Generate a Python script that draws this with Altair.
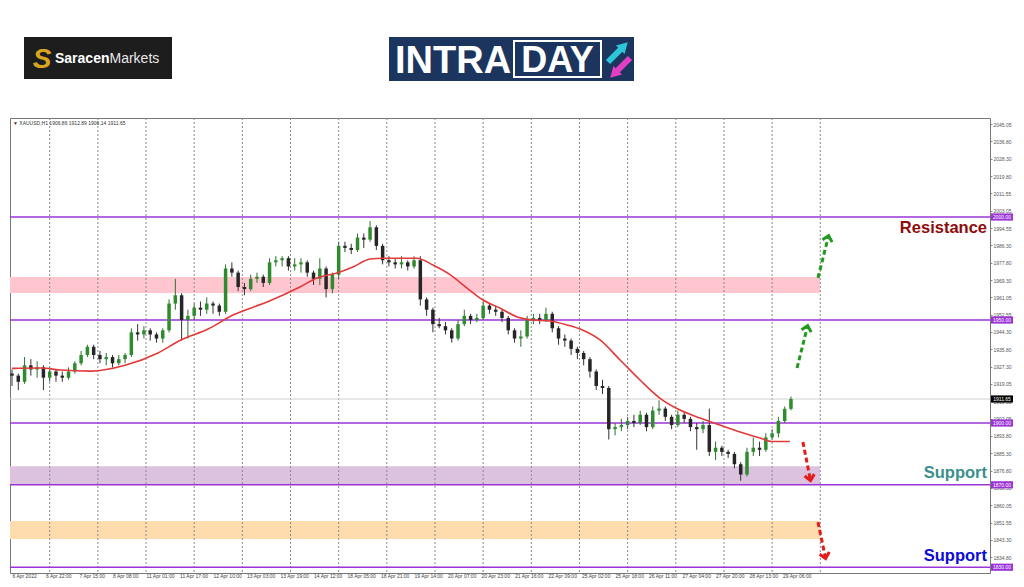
import altair as alt
import pandas as pd

# ---------------- data ----------------
# 3-hour candles of XAUUSD (each index step = 3 H1 bars)
opens = [1924,1923,1920,1928,1926,1927,1922,1925,1923,1922,
         1925,1929,1933,1937,1933,1931,1932,1929,1931,1933,
         1944,1943,1945,1943,1941,1945,1958,1962,1950,1952,
         1956,1955,1958,1957,1954,1975,1973,1966,1965,1970,
         1971,1968,1978,1979,1980,1976,1977,1978,1973,1970,
         1975,1965,1972,1986,1985,1984,1990,1989,1995,1986,
         1979,1978,1977,1978,1976,1979,1960,1955,1948,1947,
         1945,1941,1948,1952,1950,1951,1957,1955,1954,1951,
         1945,1941,1942,1950,1951,1950,1953,1946,1941,1940,
         1936,1934,1931,1925,1918,1917,1897,1898,1899,1901,
         1900,1904,1898,1906,1907,1903,1899,1904,1902,1898,
         1897,1899,1886,1888,1886,1885,1880,1875,1886,1888,
         1887,1893,1895,1901,1906.86]
closes = [1923,1920,1928,1926,1927,1922,1925,1923,1922,1925,
          1929,1933,1937,1933,1931,1932,1929,1931,1933,1944,
          1943,1945,1943,1941,1945,1958,1962,1950,1952,1956,
          1955,1958,1957,1954,1975,1973,1966,1965,1970,1971,
          1968,1978,1979,1980,1976,1977,1978,1973,1970,1975,
          1965,1972,1986,1985,1984,1990,1989,1995,1986,1979,
          1978,1977,1978,1976,1979,1960,1955,1948,1947,1945,
          1941,1948,1952,1950,1951,1957,1955,1954,1951,1945,
          1941,1942,1950,1951,1950,1953,1946,1941,1940,1936,
          1934,1931,1925,1918,1917,1897,1898,1899,1901,1900,
          1904,1898,1906,1907,1903,1899,1904,1902,1898,1897,
          1899,1886,1888,1886,1885,1880,1875,1886,1888,1887,
          1893,1895,1901,1906.86,1911.65]
highs = [1926,1924,1932,1931,1930,1928,1927,1926,1925,1927,
         1930,1935,1938,1938,1935,1934,1933,1933,1934,1946,
         1948,1947,1946,1944,1946,1960,1970,1963,1955,1958,
         1959,1961,1959,1958,1977,1978,1974,1968,1972,1973,
         1972,1980,1981,1981,1981,1980,1980,1979,1974,1980,
         1976,1973,1988,1988,1987,1992,1992,1998,1996,1987,
         1981,1980,1981,1979,1981,1981,1961,1956,1951,1949,
         1946,1950,1955,1953,1953,1959,1958,1957,1955,1952,
         1946,1945,1952,1953,1953,1956,1954,1947,1943,1941,
         1937,1935,1932,1926,1921,1918,1900,1902,1903,1904,
         1906,1905,1908,1911,1908,1904,1906,1905,1903,1900,
         1901,1907,1891,1889,1887,1886,1881,1888,1893,1891,
         1895,1897,1903,1908,1912.89]
lows = [1918,1916,1919,1923,1922,1916,1920,1920,1920,1921,
        1924,1928,1932,1931,1929,1928,1927,1928,1929,1932,
        1940,1941,1940,1939,1939,1944,1955,1940,1941,1950,
        1952,1953,1953,1952,1953,1971,1964,1962,1964,1968,
        1966,1967,1976,1976,1974,1974,1973,1971,1967,1967,
        1961,1963,1970,1983,1982,1983,1985,1988,1984,1977,
        1976,1975,1975,1974,1975,1957,1952,1944,1946,1943,
        1939,1940,1947,1948,1949,1950,1953,1952,1949,1943,
        1939,1937,1941,1948,1948,1949,1944,1938,1937,1933,
        1931,1928,1922,1916,1914,1892,1894,1896,1897,1898,
        1899,1896,1897,1904,1901,1897,1898,1900,1896,1887,
        1895,1884,1882,1884,1883,1878,1872,1874,1884,1884,
        1886,1892,1893,1900,1906.14]
bars_per_candle = 3

# moving average (red line): H1 bar index -> price
ma_bar = [0, 13.8, 23.4, 37.7, 54, 69.7, 80.7, 93.6, 105.5, 121.8, 137.5, 145.7, 155.2,
          162.8, 171, 177.2, 193.4, 201, 209.2, 217.3, 224.9, 233, 241.2, 248.8, 256.9,
          265, 272.7, 280.8, 290.4, 299.9, 309.5, 319, 328.6, 338.1, 347.7, 357.2, 363.4, 371.5]
ma_val = [1926.5, 1926.7, 1925.7, 1925.2, 1928, 1934, 1940.3, 1945.6, 1952.4, 1958.7, 1966,
          1970.4, 1972.8, 1975.7, 1979.6, 1980, 1980, 1976.7, 1972, 1965.5, 1959.7, 1955.8,
          1951.5, 1950, 1949.5, 1947.6, 1945, 1940.3, 1930.6, 1920.9, 1912, 1906.3, 1902.4,
          1899, 1895.6, 1892.7, 1891, 1891]

# time axis
time_labels = ["6 Apr 2022", "6 Apr 22:00", "7 Apr 15:00", "8 Apr 08:00", "11 Apr 01:00",
               "11 Apr 17:00", "12 Apr 10:00", "13 Apr 03:00", "13 Apr 19:00", "14 Apr 12:00",
               "18 Apr 05:00", "18 Apr 21:00", "19 Apr 14:00", "20 Apr 07:00", "20 Apr 23:00",
               "21 Apr 16:00", "22 Apr 09:00", "25 Apr 02:00", "25 Apr 18:00", "26 Apr 11:00",
               "27 Apr 04:00", "27 Apr 20:00", "28 Apr 13:00", "29 Apr 06:00"]
time_label_bars = [0, 16, 32, 48, 64, 80, 96, 112, 128, 144, 160, 176, 192, 208, 224, 240,
                   256, 272, 288, 304, 320, 336, 352, 368]
grid_bars = [18, 41, 64, 87, 110, 133, 156, 179, 202, 225, 248, 271, 294, 317, 340, 363, 386]
x_domain = [-0.955, 467.05]

# price axis
price_ticks = [2045.05, 2036.80, 2028.30, 2019.80, 2011.55, 2003.05, 1994.55, 1986.30,
               1977.80, 1969.30, 1961.05, 1952.55, 1944.30, 1935.80, 1927.30, 1919.05,
               1910.55, 1902.05, 1893.80, 1885.30, 1876.80, 1868.55, 1860.05, 1851.55,
               1843.30, 1834.80, 1826.55]
y_domain = [1827.19, 2048.06]

# levels and zones
levels = [2000, 1950, 1900, 1870, 1830]
last_price = [1911.65]
band_lo = [1963.1, 1870.0, 1843.7]
band_hi = [1970.9, 1879.0, 1852.4]
band_start = [-0.955, -0.955, -0.955]
band_end = [385.9, 385.9, 385.9]
band_colors = ["#ffc6d0", "#dcc2df", "#fedcad"]

# dashed projection arrows
arrow_x0 = [384.9, 374.9, 377.7, 384.9]
arrow_y0 = [1970.4, 1926.7, 1890.8, 1851.9]
arrow_x1 = [389.7, 379.7, 381.1, 388.3]
arrow_y1 = [1989.8, 1946.1, 1873.3, 1835.4]
arrow_col = ["#1f9a1f", "#1f9a1f", "#e31b1b", "#e31b1b"]
arrow_angle = [14, 14, 169, 168]

# annotations
notes = ["Resistance", "Support", "Support"]
note_price = [1994.7, 1875.7, 1835.4]
note_color = ["#8e0b0b", "#3b8f8c", "#0c0cd2"]

header = "\u25BC XAUUSD,H1  1906.86 1912.89 1906.14 1911.65"

# ---------------- tables ----------------
candles = pd.DataFrame({
    "bar": [i * bars_per_candle for i in range(len(closes))],
    "open": opens, "high": highs, "low": lows, "close": closes,
})
candles["up"] = candles["close"] >= candles["open"]
ma_df = pd.DataFrame({"bar": ma_bar, "ma": ma_val})
grid_df = pd.DataFrame({"bar": grid_bars})
lvl_df = pd.DataFrame({"p": levels})
last_df = pd.DataFrame({"p": last_price})
band_df = pd.DataFrame({"x0": band_start, "x1": band_end, "lo": band_lo, "hi": band_hi, "c": band_colors})
arrow_df = pd.DataFrame({"x0": arrow_x0, "y0": arrow_y0, "x1": arrow_x1, "y1": arrow_y1,
                         "c": arrow_col, "ang": arrow_angle})
note_df = pd.DataFrame({"t": notes, "p": note_price, "c": note_color})
one = pd.DataFrame({"a": [0]})

XS = alt.Scale(domain=x_domain, nice=False, zero=False, padding=0)
YS = alt.Scale(domain=y_domain, nice=False, zero=False, padding=0)
label_js = "[" + ",".join("'" + t + "'" for t in time_labels) + "]"

XA = alt.Axis(values=time_label_bars, labelExpr=label_js + "[round(datum.value/16)]",
              labelAlign="left", labelBaseline="top", labelFontSize=5,
              labelColor="#444", labelPadding=0, ticks=False,
              domain=False, grid=False, labelOverlap=False, labelFont="Liberation Sans",
              title=None)
YA = alt.Axis(orient="right", values=price_ticks, format=".2f", labelFontSize=5,
              labelColor="#555", labelPadding=1, tickSize=2, tickColor="#888",
              domain=False, grid=False, labelOverlap=False, labelFont="Liberation Sans",
              title=None)

PURPLE = "#9b34d6"


def X(f):
    return alt.X(f, scale=XS, axis=XA, title=None)


def Y(f):
    return alt.Y(f, scale=YS, axis=YA, title=None)


# ---------------- layers ----------------
bands = alt.Chart(band_df).mark_rect().encode(
    x=X("x0:Q"), x2="x1:Q", y=Y("lo:Q"), y2="hi:Q",
    color=alt.Color("c:N", scale=None),
)

grid = alt.Chart(grid_df).mark_rule(color="#8a8a8a", strokeDash=[2, 2], strokeWidth=1).encode(
    x=X("bar:Q")
)

last_line = alt.Chart(last_df).mark_rule(color="#cfcfcf", strokeWidth=1).encode(y=Y("p:Q"))

lvl = alt.Chart(lvl_df).mark_rule(color=PURPLE, strokeWidth=1.5).encode(y=Y("p:Q"))

wicks = alt.Chart(candles).mark_rule(strokeWidth=1).encode(
    x=X("bar:Q"), y=Y("low:Q"), y2="high:Q",
    color=alt.condition("datum.up", alt.value("#2f6f2f"), alt.value("#333333")),
)

bodies = alt.Chart(candles).mark_bar(size=3.5).encode(
    x=X("bar:Q"), y=Y("open:Q"), y2="close:Q",
    color=alt.condition("datum.up", alt.value("#2e8b2e"), alt.value("#262626")),
)

ma = alt.Chart(ma_df).mark_line(color="#e23a3a", strokeWidth=1.6, interpolate="monotone").encode(
    x=X("bar:Q"), y=Y("ma:Q"),
)

arrows = alt.Chart(arrow_df).mark_rule(strokeDash=[5, 3], strokeWidth=3).encode(
    x=X("x0:Q"), x2="x1:Q", y=Y("y0:Q"), y2="y1:Q",
    color=alt.Color("c:N", scale=None),
)
heads = alt.Chart(arrow_df).mark_point(
    shape="M -0.9 0.55 L 0 -0.45 L 0.9 0.55", filled=False, strokeWidth=3, size=120, opacity=1
).encode(
    x=X("x1:Q"), y=Y("y1:Q"),
    angle=alt.Angle("ang:Q", scale=None),
    color=alt.Color("c:N", scale=None),
)

notes_l = alt.Chart(note_df).mark_text(font="Liberation Sans", fontWeight="bold", fontSize=16.5,
                                       align="right", baseline="middle").encode(
    x=alt.value(977), y=Y("p:Q"), text="t:N",
    color=alt.Color("c:N", scale=None),
)

box_src = pd.DataFrame({"p": levels + last_price,
                        "c": [PURPLE] * len(levels) + ["#000000"]})
boxes = alt.Chart(box_src).transform_calculate(
    top="datum.p + 1.75", bot="datum.p - 1.75"
).mark_rect().encode(
    x=alt.value(981), x2=alt.value(1003),
    y=Y("top:Q"), y2="bot:Q",
    color=alt.Color("c:N", scale=None),
)
box_txt = alt.Chart(box_src).mark_text(color="white", fontSize=5, font="Liberation Sans",
                                       align="center", baseline="middle").encode(
    x=alt.value(992), y=Y("p:Q"),
    text=alt.Text("p:Q", format=".2f"),
)

head_txt = alt.Chart(one).mark_text(text=header, fontSize=5, color="#333", align="left",
                                    baseline="top", font="Liberation Sans").encode(
    x=alt.value(3), y=alt.value(3)
)

# ---------------- logos (decoration above the chart) ----------------
sar_box = alt.Chart(one).mark_rect(color="#1d1d1d").encode(
    x=alt.value(14), x2=alt.value(162), y=alt.value(-81), y2=alt.value(-39))
sar_s = alt.Chart(one).mark_text(text="S", font="Liberation Sans", fontWeight="bold",
                                 fontStyle="italic", fontSize=28, color="#d9a520",
                                 align="center", baseline="alphabetic").encode(
    x=alt.value(32), y=alt.value(-50))
sar_t1 = alt.Chart(one).mark_text(text="Saracen", font="Liberation Sans", fontWeight="bold",
                                  fontSize=14, color="white", align="left",
                                  baseline="alphabetic").encode(x=alt.value(45), y=alt.value(-55))
sar_t2 = alt.Chart(one).mark_text(text="Markets", font="Liberation Sans", fontSize=14,
                                  color="#e8e8e8", align="left",
                                  baseline="alphabetic").encode(x=alt.value(99.5), y=alt.value(-55))

intra_box = alt.Chart(one).mark_rect(color="#1c355e").encode(
    x=alt.value(379), x2=alt.value(624), y=alt.value(-81), y2=alt.value(-37))
intra_t = alt.Chart(one).mark_text(text="INTRA", font="Liberation Sans", fontWeight="bold",
                                   fontSize=38, color="white", align="left",
                                   baseline="alphabetic").encode(x=alt.value(385), y=alt.value(-45))
day_box = alt.Chart(one).mark_rect(fill="#1c355e", stroke="white", strokeWidth=2).encode(
    x=alt.value(504), x2=alt.value(591), y=alt.value(-77), y2=alt.value(-41))
day_t = alt.Chart(one).mark_text(text="DAY", font="Liberation Sans", fontWeight="bold",
                                 fontSize=36, color="white", align="center",
                                 baseline="alphabetic").encode(x=alt.value(547.5), y=alt.value(-46))
cy_line = alt.Chart(one).mark_rule(color="#2cc6d8", strokeWidth=6).encode(
    x=alt.value(598), x2=alt.value(611), y=alt.value(-56), y2=alt.value(-69))
cy_head = alt.Chart(one).mark_point(shape="triangle-up", filled=True, size=150, color="#2cc6d8",
                                    opacity=1, angle=45).encode(x=alt.value(614), y=alt.value(-72))
mg_line = alt.Chart(one).mark_rule(color="#e23fc3", strokeWidth=6).encode(
    x=alt.value(620), x2=alt.value(607), y=alt.value(-60), y2=alt.value(-47))
mg_head = alt.Chart(one).mark_point(shape="triangle-up", filled=True, size=150, color="#e23fc3",
                                    opacity=1, angle=225).encode(x=alt.value(604), y=alt.value(-44))

chart = alt.layer(
    bands, grid, last_line, lvl, wicks, bodies, ma, arrows, heads, notes_l,
    boxes, box_txt, head_txt,
    sar_box, sar_s, sar_t1, sar_t2, intra_box, intra_t, day_box, day_t,
    cy_line, cy_head, mg_line, mg_head,
).properties(
    width=980, height=455,
    padding={"left": 2, "top": 110, "right": 26, "bottom": 6},
    autosize=alt.AutoSizeParams(type="none"),
    background="white",
).configure_view(stroke="#777777", strokeWidth=1)

chart.save("out.html", embed_options={"renderer": "svg", "actions": False})
